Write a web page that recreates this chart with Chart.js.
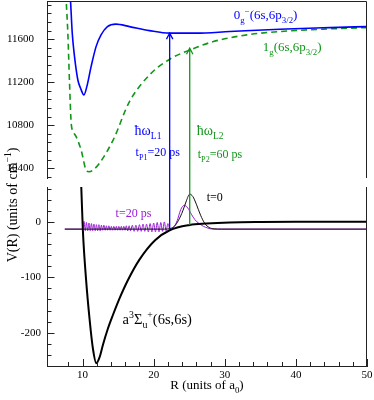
<!DOCTYPE html>
<html>
<head>
<meta charset="utf-8">
<script src="https://cdn.jsdelivr.net/npm/chart.js@4.4.1/dist/chart.umd.min.js"></script>
<style>
  body { margin: 0; background: #fff; }
  canvas { display: block; }
</style>
</head>
<body>
<canvas id="potChart" width="374" height="400"></canvas>
<script>
    // upper panel: 0g- (6s,6p3/2) potential, cm-1
    var blueR = [8.0, 8.3, 8.55, 8.87, 9.34, 9.72, 10.19, 10.6, 11.2, 11.9, 12.6, 13.5, 14.7, 16.6, 19.4, 22.25, 26.0, 30.7, 37.7, 44.8, 50];
    var blueV = [12250, 11966, 11656, 11438, 11221, 11144, 11082, 11159, 11345, 11531, 11640, 11717, 11740, 11717, 11680, 11656, 11656, 11671, 11693, 11708, 11717];

    // upper panel: 1g (6s,6p3/2) potential (dashed)
    var greenR = [7.5, 7.7, 7.93, 8.17, 8.4, 8.7, 9.1, 9.8, 10.5, 10.9, 11.6, 12.4, 14.3, 16.6, 19.4, 22.25, 25.1, 28.4, 33.1, 37.7, 44.8, 50];
    var greenV = [12300, 11966, 11656, 11193, 10821, 10740, 10694, 10570, 10384, 10368, 10390, 10449, 10663, 11020, 11267, 11414, 11500, 11578, 11640, 11671, 11696, 11708];

    // lower panel: a3Su+ (6s,6s) ground triplet
    var groundR = [9.7, 9.82, 10.04, 10.5, 11.0, 11.45, 11.93, 12.4, 12.86, 13.5, 14.27, 15.2, 16.3, 18.0, 20.2, 22.25, 25.07, 27.4, 30.7, 35, 40, 50];
    var groundV = [100, 63, -14, -105, -177, -228, -255, -244, -222, -195, -168, -138, -107, -68, -33, -15, -5.5, -3, -1, 0, 0.5, 0.5];

    // wave packet at t=0
    var packet0R = [7.5, 21.5, 22.3, 22.9, 23.5, 24.1, 24.6, 25.07, 25.5, 26.0, 26.6, 27.2, 27.8, 28.5, 29.5, 50];
    var packet0V = [-13, -13, -12, -8, 3, 20, 38, 50, 46, 32, 12, -3, -10, -12.5, -13, -13];

    // wave packet at t=20 ps
    var packet20R = [7.5, 9.9, 10.05, 10.2, 10.38, 10.55, 10.72, 10.9, 11.08, 11.25, 11.42, 11.6, 11.78, 11.95, 12.12, 12.3, 12.48,
      12.65, 12.82, 13.0, 13.18, 13.35, 13.52, 13.7, 13.88, 14.05, 14.22, 14.4, 14.58, 14.75, 14.92, 15.1, 15.28, 15.45, 15.62,
      15.8, 15.98, 16.15, 16.35, 16.55, 16.75, 17.0, 17.25, 17.5, 17.75, 18.0, 18.25, 18.5, 18.75, 19.0, 19.25, 19.5, 19.75,
      20.0, 20.25, 20.5, 20.75, 21.0, 21.25, 21.5, 21.75, 22.0, 22.3, 22.8, 23.3, 23.8, 24.3, 24.8, 25.3, 25.8, 26.4, 27.0,
      27.6, 28.3, 29.0, 50];
    var packet20V = [-13, -13, -12, 1, -16, -1, -16, -2, -16, -3, -16, -4, -16, -5, -16, -5, -16,
      -6, -15, -6, -15, -7, -15, -7, -15, -8, -15, -8, -15, -8, -15, -8, -15, -8, -15,
      -8, -15, -7, -16, -7, -16, -6, -17, -6, -17, -5, -17, -4, -17, -4, -18, -3, -18,
      -2, -18, -1, -18, -1, -17, 0, -16, -3, -14, -10, 2, 22, 30, 25, 14, 4, -3, -8,
      -11, -13, -13, -13];

    // pump arrows: [R, start on lower axis, tip on upper axis]
    var arrowL1 = [22.25, -13, 11656];
    var arrowL2 = [25.07, -5.5, 11516];

    var serif = '"Liberation Serif", "Times New Roman", serif';
    var BLUE = '#0000ff';
    var GREEN = '#11961a';
    var VIOLET = '#9a1ad8';

    function toPoints(xs, ys) {
      var pts = [];
      for (var i = 0; i < xs.length; i++) {
        pts.push({x: xs[i], y: ys[i]});
      }
      return pts;
    }

    // text with sub/superscripts, parts = [[text, kind]]
    function richText(ctx, x, y, parts, size, color, align, rotate) {
      ctx.save();
      ctx.translate(x, y);
      if (rotate) ctx.rotate(rotate);
      ctx.fillStyle = color;
      ctx.textBaseline = 'alphabetic';
      ctx.textAlign = 'left';
      var total = 0;
      parts.forEach(function (p) {
        ctx.font = (p[1] ? size * 0.68 : size) + 'px ' + serif;
        total += ctx.measureText(p[0]).width;
      });
      var cx = align === 'center' ? -total / 2 : 0;
      parts.forEach(function (p) {
        var kind = p[1] || '';
        var fs = kind ? size * 0.68 : size;
        var dy = kind === 'sub' ? size * 0.3 : (kind === 'sup' ? -size * 0.42 : 0);
        ctx.font = fs + 'px ' + serif;
        ctx.fillText(p[0], cx, dy);
        cx += ctx.measureText(p[0]).width;
      });
      ctx.restore();
    }

    function drawArrow(ctx, x, y0, y1, color) {
      ctx.save();
      ctx.strokeStyle = color;
      ctx.lineWidth = 1.3;
      ctx.beginPath();
      ctx.moveTo(x, y0);
      ctx.lineTo(x, y1);
      ctx.moveTo(x - 3.2, y1 + 6);
      ctx.lineTo(x, y1);
      ctx.lineTo(x + 3.2, y1 + 6);
      ctx.stroke();
      ctx.restore();
    }

    var extras = {
      id: 'extras',
      afterDatasetsDraw: function (chart) {
        var ctx = chart.ctx;
        var xs = chart.scales.x, yt = chart.scales.yTop, yb = chart.scales.yBot;

        drawArrow(ctx, xs.getPixelForValue(arrowL1[0]), yb.getPixelForValue(arrowL1[1]), yt.getPixelForValue(arrowL1[2]), BLUE);
        drawArrow(ctx, xs.getPixelForValue(arrowL2[0]), yb.getPixelForValue(arrowL2[1]), yt.getPixelForValue(arrowL2[2]), GREEN);

        richText(ctx, xs.getPixelForValue(31.26), yt.getPixelForValue(11788),
          [['0'], ['g', 'sub'], ['\u2212', 'sup'], ['(6s,6p'], ['3/2', 'sub'], [')']], 13, BLUE);
        richText(ctx, xs.getPixelForValue(35.35), yt.getPixelForValue(11490),
          [['1'], ['g', 'sub'], ['(6s,6p'], ['3/2', 'sub'], [')']], 13, GREEN);
        richText(ctx, xs.getPixelForValue(17.32), yt.getPixelForValue(10710),
          [['\u0127\u03c9'], ['L1', 'sub']], 14, BLUE);
        richText(ctx, xs.getPixelForValue(17.46), yt.getPixelForValue(10515),
          [['t'], ['P1', 'sub'], ['=20 ps']], 12, BLUE);
        richText(ctx, xs.getPixelForValue(26.05), yt.getPixelForValue(10710),
          [['\u0127\u03c9'], ['L2', 'sub']], 14, GREEN);
        richText(ctx, xs.getPixelForValue(26.2), yt.getPixelForValue(10496),
          [['t'], ['P2', 'sub'], ['=60 ps']], 12, GREEN);
        richText(ctx, xs.getPixelForValue(27.46), yb.getPixelForValue(37.8), [['t=0']], 12, '#000');
        richText(ctx, xs.getPixelForValue(14.65), yb.getPixelForValue(9), [['t=20 ps']], 12, VIOLET);
        richText(ctx, xs.getPixelForValue(15.63), yb.getPixelForValue(-184),
          [['a'], ['3', 'sup'], ['\u03a3'], ['u', 'sub'], ['+', 'sup'], ['(6s,6s)']], 14.5, '#000');
      },
      afterDraw: function (chart) {
        var ctx = chart.ctx;
        var xs = chart.scales.x, yt = chart.scales.yTop, yb = chart.scales.yBot;
        var left = Math.round(xs.left) + 0.5, right = Math.round(xs.right) - 0.5;

        ctx.save();
        ctx.strokeStyle = '#222';
        ctx.lineWidth = 1;
        // top border and the two pieces of the right border
        ctx.beginPath();
        ctx.moveTo(left, Math.round(yt.top) + 0.5);
        ctx.lineTo(right, Math.round(yt.top) + 0.5);
        ctx.lineTo(right, yt.bottom);
        ctx.moveTo(right, yb.top);
        ctx.lineTo(right, yb.bottom);
        ctx.stroke();

        // inward tick marks
        ctx.beginPath();
        [[yt, 400], [yb, 100]].forEach(function (s) {
          s[0].ticks.forEach(function (t) {
            var y = Math.round(s[0].getPixelForValue(t.value)) + 0.5;
            var len = t.value % s[1] === 0 ? 7 : 4;
            ctx.moveTo(left, y);
            ctx.lineTo(left + len, y);
          });
        });
        xs.ticks.forEach(function (t) {
          var x = Math.round(xs.getPixelForValue(t.value)) + 0.5;
          var len = t.value % 10 === 0 ? 7 : 4;
          ctx.moveTo(x, xs.top);
          ctx.lineTo(x, xs.top - len);
        });
        ctx.stroke();
        ctx.restore();

        // axis titles
        richText(ctx, (xs.left + xs.right) / 2, 389, [['R (units of a'], ['0', 'sub'], [')']], 13, '#000', 'center');
        richText(ctx, 17, 205, [['V(R) (units of cm'], ['\u22121', 'sup'], [')']], 14, '#000', 'center', -Math.PI / 2);
      }
    };

    function lineSet(xs, ys, color, width, axis, dash) {
      return {
        data: toPoints(xs, ys),
        yAxisID: axis,
        borderColor: color,
        borderWidth: width,
        borderDash: dash || [],
        pointRadius: 0,
        fill: false,
        cubicInterpolationMode: 'monotone'
      };
    }

    // fixed size, and no label overhang pushing the plot area around
    function fixSize(w, h) {
      return function (scale) {
        if (w) scale.width = w;
        if (h) scale.height = h;
        scale.paddingTop = 0;
        scale.paddingBottom = 0;
        scale.paddingLeft = 0;
        scale.paddingRight = 0;
      };
    }

    var tickFont = {family: serif, size: 11};

    var chart = new Chart(document.getElementById('potChart'), {
      type: 'line',
      data: {
        datasets: [
          lineSet(groundR, groundV, '#000', 2, 'yBot'),
          lineSet(packet0R, packet0V, '#111', 1, 'yBot'),
          lineSet(packet20R, packet20V, VIOLET, 1, 'yBot'),
          lineSet(blueR, blueV, BLUE, 1.6, 'yTop'),
          lineSet(greenR, greenV, GREEN, 1.6, 'yTop', [6, 4])
        ]
      },
      options: {
        responsive: false,
        animation: false,
        devicePixelRatio: 1,
        layout: {padding: {top: 1, right: 7, left: 0, bottom: 0}},
        plugins: {legend: {display: false}, tooltip: {enabled: false}},
        scales: {
          x: {
            type: 'linear',
            min: 5,
            max: 50,
            grid: {display: false, drawTicks: false},
            border: {color: '#222'},
            ticks: {
              stepSize: 2, autoSkip: false, maxRotation: 0, padding: 3, color: '#000', font: tickFont,
              callback: function (v) { return v % 10 === 0 ? String(v) : ''; }
            },
            afterFit: fixSize(0, 34)
          },
          yTop: {
            type: 'linear',
            position: 'left',
            stack: 'pot',
            stackWeight: 177,
            weight: 3,
            min: 10310,
            max: 11955,
            grid: {display: false, drawTicks: false},
            border: {color: '#222'},
            ticks: {
              stepSize: 80, autoSkip: false, includeBounds: false, padding: 13, color: '#000', font: tickFont,
              callback: function (v) { return v % 400 === 0 ? String(v) : ''; }
            },
            afterFit: fixSize(47)
          },
          yGap: {
            type: 'linear',
            position: 'left',
            stack: 'pot',
            stackWeight: 9,
            weight: 2,
            grid: {display: false, drawTicks: false},
            border: {display: false},
            ticks: {display: false},
            afterFit: fixSize(47)
          },
          yBot: {
            type: 'linear',
            position: 'left',
            stack: 'pot',
            stackWeight: 179,
            weight: 1,
            min: -260,
            max: 63,
            grid: {display: false, drawTicks: false},
            border: {color: '#222'},
            ticks: {
              stepSize: 20, autoSkip: false, includeBounds: false, padding: 6, color: '#000', font: tickFont,
              callback: function (v) { return v % 100 === 0 ? String(v) : ''; }
            },
            afterFit: fixSize(47)
          }
        }
      },
      plugins: [extras]
    });
</script>
</body>
</html>
